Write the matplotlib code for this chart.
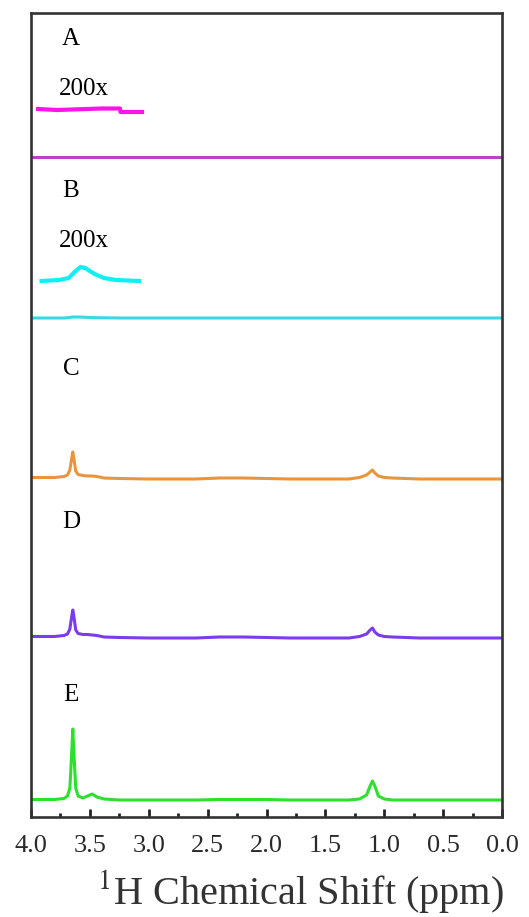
import numpy as np
import matplotlib
matplotlib.use("Agg")
import matplotlib.pyplot as plt

plt.rcParams['font.family'] = ['Liberation Serif', 'DejaVu Serif']
plt.rcParams['mathtext.fontset'] = 'stix'

# chemical shift sample points (ppm) and intensities
shift = [4.0, 3.80, 3.72, 3.69, 3.67, 3.655, 3.645, 3.635, 3.62, 3.60, 3.56,
         3.52, 3.48, 3.44, 3.38, 3.25, 3.0, 2.6, 2.4, 2.2, 2.0, 1.8, 1.5,
         1.3, 1.21, 1.15, 1.12, 1.10, 1.08, 1.05, 1.0, 0.93, 0.7, 0.4, 0.0]

int_a = [0, 0, 0, 0, 0, 0, 0, 0, 0, 0, 0,
         0, 0, 0, 0, 0, 0, 0, 0, 0, 0, 0, 0,
         0, 0, 0, 0, 0, 0, 0, 0, 0, 0, 0, 0]
int_b = [0, 0, 0, 0.3, 0.5, 0.8, 1, 1, 1, 1, 0.8,
         0.6, 0.5, 0.3, 0.2, 0, 0, 0, 0, 0, 0, 0, 0,
         0, 0, 0, 0, 0, 0, 0, 0, 0, 0, 0, 0]
int_c = [1.5, 1.5, 2.5, 4, 9, 20, 27, 20, 8, 4.5, 3.5,
         3, 3, 2.5, 1, 0.5, 0, 0, 1, 1, 0.5, 0, 0,
         0, 1.5, 4, 7, 9, 6, 3, 1.5, 1, 0, 0, 0]
int_d = [1.5, 1.5, 2.5, 4, 9, 21, 28, 21, 8, 4.5, 3.5,
         3.5, 3, 2.5, 1, 0.5, 0, 0, 1, 1, 0.5, 0, 0,
         0, 1.5, 4, 8, 10, 6, 3, 1.5, 1, 0, 0, 0]
int_e = [0.5, 0.5, 1.5, 4, 12, 45, 71, 45, 12, 4, 2,
         4, 6, 3, 1, 0, 0, 0, 0.5, 0.5, 0.5, 0, 0,
         0, 1, 5, 14, 19, 14, 4, 1, 0, 0, 0, 0]

labels = ["A", "B", "C", "D", "E"]
offsets = [660, 499, 338, 179, 17]
colors = ["#b844c4", "#3ad8e2", "#e8963c", "#7b3cf0", "#2ee02e"]
label_y = [778, 626, 448, 295, 122]

# 200x expanded insets (drawn at their own place in the top-left)
inset_a_x = [3.94, 3.78, 3.40, 3.244, 3.24, 3.057]
inset_a_y = [708, 707, 708.5, 708.5, 705, 705]
inset_b_x = [3.91, 3.76, 3.68, 3.63, 3.58, 3.54, 3.46, 3.38, 3.28, 3.08]
inset_b_y = [536, 537, 539, 545, 550, 549, 543, 539, 537, 536]
inset_colors = ["#ff14e6", "#10f0f4"]

fig, ax = plt.subplots(figsize=(5.29, 9.17), dpi=100)
fig.subplots_adjust(left=31/529, right=502/529, bottom=1-817/917, top=1-13/917)

spectra = [int_a, int_b, int_c, int_d, int_e]
for lab, y, off, c, ly in zip(labels, spectra, offsets, colors, label_y):
    ax.plot(shift, np.array(y) + off, color=c, lw=2.2, solid_joinstyle='round')
    ax.text(3.66, ly, lab, fontsize=18, ha='center', va='center')

ax.plot(inset_a_x, inset_a_y, color=inset_colors[0], lw=3)
ax.plot(inset_b_x, inset_b_y, color=inset_colors[1], lw=3, solid_joinstyle='round')
ax.text(3.55, 728, "200x", fontsize=18, ha='center', va='center')
ax.text(3.55, 576, "200x", fontsize=18, ha='center', va='center')

ax.set_xlim(4.0, 0.0)
ax.set_ylim(0, 804)
ax.set_yticks([])
ax.set_xticks(np.arange(4.0, -0.01, -0.5))
ax.set_xticks(np.arange(3.75, 0, -0.5), minor=True)
ax.set_xticklabels(["4.0", "3.5", "3.0", "2.5", "2.0", "1.5", "1.0", "0.5", "0.0"])
ax.tick_params(axis='x', which='major', direction='in', length=6, width=2,
               labelsize=19, pad=13, color='#222222', labelcolor='#2a2a2a')
ax.tick_params(axis='x', which='minor', direction='in', length=3, width=2,
               color='#222222')
for s in ax.spines.values():
    s.set_linewidth(1.9)
    s.set_color('#333333')

ax.set_xlabel(r'$^{1}$H Chemical Shift (ppm)', fontsize=29, labelpad=8,
              color='#333333', x=0.573)

fig.savefig("out.png", dpi=100)
